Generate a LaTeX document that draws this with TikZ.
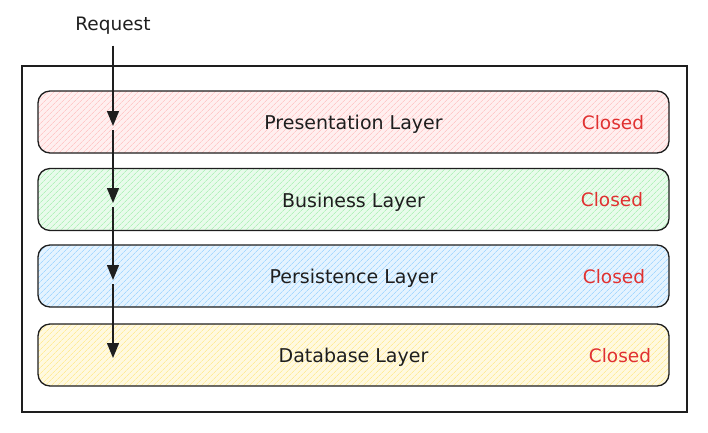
\documentclass[tikz,border=0pt]{standalone}
\usepackage{fontspec}
\setmainfont{DejaVu Sans}
\usetikzlibrary{patterns.meta,arrows.meta}
\definecolor{ink}{HTML}{1E1E1E}
\definecolor{redc}{HTML}{E03131}
\definecolor{rL}{HTML}{FFC9C9}
\definecolor{gL}{HTML}{B2F2BB}
\definecolor{bL}{HTML}{A5D8FF}
\definecolor{yL}{HTML}{FFEC99}
\tikzset{
  txt/.style={font=\fontsize{18.5}{21}\selectfont},
  layer/.style={draw=ink, line width=1.3pt, rounded corners=12pt,
    minimum width=631pt, minimum height=62pt, inner sep=0pt,
    font=\fontsize{19}{22}\selectfont, text=ink,
    text height=15pt, text depth=0pt},
  hatch/.style={preaction={fill=#1!30!white},
    pattern={Lines[angle=45,distance=4pt,line width=0.7pt]}, pattern color=#1},
  closedlbl/.style={text=redc, txt},
  arr/.style={draw=ink, line width=1.4pt, -{Triangle[length=15pt,width=12pt]}}
}
\begin{document}
\begin{tikzpicture}[x=1pt,y=-1pt]
\useasboundingbox (0,0) rectangle (708,432);
\draw[ink, line width=1.6pt] (22,66) rectangle (687,412);
\node[layer, hatch=rL] (L1) at (353.5,122) {Presentation Layer};
\node[layer, hatch=gL] (L2) at (353.5,199.5) {Business Layer};
\node[layer, hatch=bL] (L3) at (353.5,276) {Persistence Layer};
\node[layer, hatch=yL] (L4) at (353.5,355) {Database Layer};
\node[closedlbl] (c1) at (613,122.5) {Closed};
\node[closedlbl] (c2) at (612,199.5) {Closed};
\node[closedlbl] (c3) at (614,276.5) {Closed};
\node[closedlbl] (c4) at (620,355.5) {Closed};
\node[text=ink, txt] (req) at (113,25.5) {Request};
\coordinate (t1) at (113,126);
\coordinate (s2) at (113,130);
\coordinate (t2) at (113,203);
\coordinate (s3) at (113,207);
\coordinate (t3) at (113,280);
\coordinate (s4) at (113,284);
\coordinate (t4) at (113,358);
\draw[arr, shorten <=8pt] (req.south) -- (t1);
\draw[arr] (s2) -- (t2);
\draw[arr] (s3) -- (t3);
\draw[arr] (s4) -- (t4);
\end{tikzpicture}
\end{document}
